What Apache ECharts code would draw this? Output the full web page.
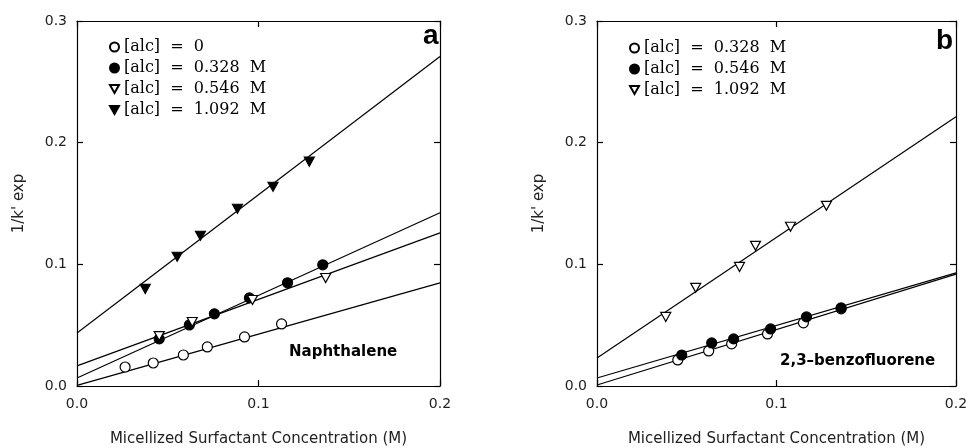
<!DOCTYPE html>
<html>
<head>
<meta charset="utf-8">
<script src="https://cdn.jsdelivr.net/npm/echarts@6/dist/echarts.min.js"></script>
<style>
  html, body { margin: 0; background: #fff; }
  #main { width: 970px; height: 448px; }
</style>
</head>
<body>
<div id="main"></div>
<script>
// ---- panel a : Naphthalene ----
var aLegend = ['[alc]  =  0', '[alc]  =  0.328  M', '[alc]  =  0.546  M', '[alc]  =  1.092  M'];
var aX0 = [0.0265, 0.042, 0.0586, 0.0718, 0.0923, 0.1127];
var aY0 = [0.0156, 0.0189, 0.0255, 0.0321, 0.0403, 0.051];
var aX1 = [0.0453, 0.0619, 0.0757, 0.095, 0.116, 0.1354];
var aY1 = [0.0387, 0.0502, 0.0593, 0.0724, 0.0848, 0.0996];
var aX2 = [0.0453, 0.0635, 0.0967, 0.137];
var aY2 = [0.041, 0.0526, 0.0707, 0.0888];
var aX3 = [0.0376, 0.0552, 0.068, 0.0884, 0.108, 0.128];
var aY3 = [0.0798, 0.1062, 0.1235, 0.1457, 0.1638, 0.1844];
// fitted lines, value at x = 0 and x = 0.2
var fitX = [0, 0.2];
var aFit0 = [0.0005, 0.0848];
var aFit1 = [0.0066, 0.1424];
var aFit2 = [0.0165, 0.1259];
var aFit3 = [0.0436, 0.2708];

// ---- panel b : 2,3-benzofluorene ----
var bLegend = ['[alc]  =  0.328  M', '[alc]  =  0.546  M', '[alc]  =  1.092  M'];
var bX1 = [0.045, 0.0622, 0.075, 0.095, 0.115, 0.136];
var bY1 = [0.0214, 0.0288, 0.0346, 0.0428, 0.0519, 0.0634];
var bX2 = [0.0472, 0.0639, 0.0761, 0.0967, 0.1167, 0.136];
var bY2 = [0.0255, 0.0354, 0.0387, 0.0469, 0.0568, 0.0642];
var bX3 = [0.0383, 0.055, 0.0794, 0.0883, 0.1078, 0.1278];
var bY3 = [0.0568, 0.0807, 0.0979, 0.1152, 0.1309, 0.1481];
var bFit1 = [0.0008, 0.092];
var bFit2 = [0.0066, 0.093];
var bFit3 = [0.023, 0.2214];

var xTicks = ['0.0', '0.1', '0.2'];
var yTicks = ['0.0', '0.1', '0.2', '0.3'];

var chart = echarts.init(document.getElementById('main'));

function pts(xs, ys) {
  return xs.map(function (x, i) { return [x, ys[i]]; });
}

// downward triangle, so legend and plot both point down
var downTri = 'path://M0,0 L10,0 L5,9 Z';

var labelFont = { color: '#222', fontFamily: 'DejaVu Sans', fontSize: 14 };
var legendFont = { color: '#000', fontFamily: 'DejaVu Serif', fontSize: 16 };
var black = { color: '#000', width: 1.2 };

function xAx(grid, pos, label) {
  return {
    type: 'value', gridIndex: grid, position: pos, min: 0, max: 0.2, interval: 0.1,
    axisLine: { show: true, onZero: false, lineStyle: black },
    axisTick: { show: true, inside: true, length: 6, lineStyle: black },
    axisLabel: Object.assign({ show: label, margin: 11, formatter: function (v) { return xTicks[Math.round(v * 10)]; } }, labelFont),
    splitLine: { show: false },
    name: label ? 'Micellized Surfactant Concentration (M)' : '',
    nameLocation: 'middle', nameGap: 46,
    nameTextStyle: { color: '#222', fontFamily: 'DejaVu Sans', fontSize: 15 }
  };
}
function yAx(grid, pos, label) {
  return {
    type: 'value', gridIndex: grid, position: pos, min: 0, max: 0.3, interval: 0.1,
    axisLine: { show: true, onZero: false, lineStyle: black },
    axisTick: { show: true, inside: true, length: 6, lineStyle: black },
    axisLabel: Object.assign({ show: label, margin: 10, formatter: function (v) { return yTicks[Math.round(v * 10)]; } }, labelFont),
    splitLine: { show: false },
    name: label ? "1/k' exp" : '',
    nameLocation: 'middle', nameGap: 50, nameRotate: 90,
    nameTextStyle: { color: '#222', fontFamily: 'DejaVu Sans', fontSize: 15 }
  };
}

function scatter(name, xi, data, sym, filled) {
  return {
    name: name, type: 'scatter', xAxisIndex: xi, yAxisIndex: xi,
    symbol: sym, symbolSize: sym === 'circle' ? 10 : [10, 9],
    itemStyle: { color: filled ? '#000' : '#fff', borderColor: '#000', borderWidth: 1.2, opacity: 1 },
    data: data, z: 3
  };
}
function fit(xi, ys) {
  return {
    type: 'line', xAxisIndex: xi, yAxisIndex: xi, showSymbol: false, silent: true,
    lineStyle: { color: '#000', width: 1.2 }, data: pts(fitX, ys), z: 2
  };
}

var option = {
  animation: false,
  backgroundColor: '#fff',
  grid: [
    { left: 77, right: 530, top: 21, bottom: 62, outerBoundsMode: 'none' },
    { left: 597, right: 14, top: 21, bottom: 62, outerBoundsMode: 'none' }
  ],
  xAxis: [xAx(0, 'bottom', true), xAx(0, 'top', false), xAx(1, 'bottom', true), xAx(1, 'top', false)],
  yAxis: [yAx(0, 'left', true), yAx(0, 'right', false), yAx(1, 'left', true), yAx(1, 'right', false)],
  legend: [
    {
      data: aLegend.map(function (n) { return 'a:' + n; }),
      orient: 'vertical', left: 104, top: 34, itemWidth: 9, itemHeight: 9, itemGap: 5,
      formatter: function (n) { return n.slice(2); },
      textStyle: legendFont, selectedMode: false
    },
    {
      data: bLegend.map(function (n) { return 'b:' + n; }),
      orient: 'vertical', left: 624, top: 35, itemWidth: 9, itemHeight: 9, itemGap: 5,
      formatter: function (n) { return n.slice(2); },
      textStyle: legendFont, selectedMode: false
    }
  ],
  graphic: [
    { type: 'text', left: 423, top: 22, style: { text: 'a', font: 'bold 28px "Liberation Sans"', fill: '#000' } },
    { type: 'text', left: 936, top: 27, style: { text: 'b', font: 'bold 28px "Liberation Sans"', fill: '#000' } },
    { type: 'text', left: 289, top: 345, style: { text: 'Naphthalene', font: 'bold 15px "DejaVu Sans"', fill: '#000' } },
    { type: 'text', left: 780, top: 354, style: { text: '2,3\u2013benzofluorene', font: 'bold 15px "DejaVu Sans"', fill: '#000' } }
  ],
  series: [
    fit(0, aFit0), fit(0, aFit1), fit(0, aFit2), fit(0, aFit3),
    scatter('a:' + aLegend[0], 0, pts(aX0, aY0), 'circle', false),
    scatter('a:' + aLegend[1], 0, pts(aX1, aY1), 'circle', true),
    scatter('a:' + aLegend[2], 0, pts(aX2, aY2), downTri, false),
    scatter('a:' + aLegend[3], 0, pts(aX3, aY3), downTri, true),
    fit(2, bFit1), fit(2, bFit2), fit(2, bFit3),
    scatter('b:' + bLegend[0], 2, pts(bX1, bY1), 'circle', false),
    scatter('b:' + bLegend[1], 2, pts(bX2, bY2), 'circle', true),
    scatter('b:' + bLegend[2], 2, pts(bX3, bY3), downTri, false)
  ]
};

chart.setOption(option);
</script>
</body>
</html>
